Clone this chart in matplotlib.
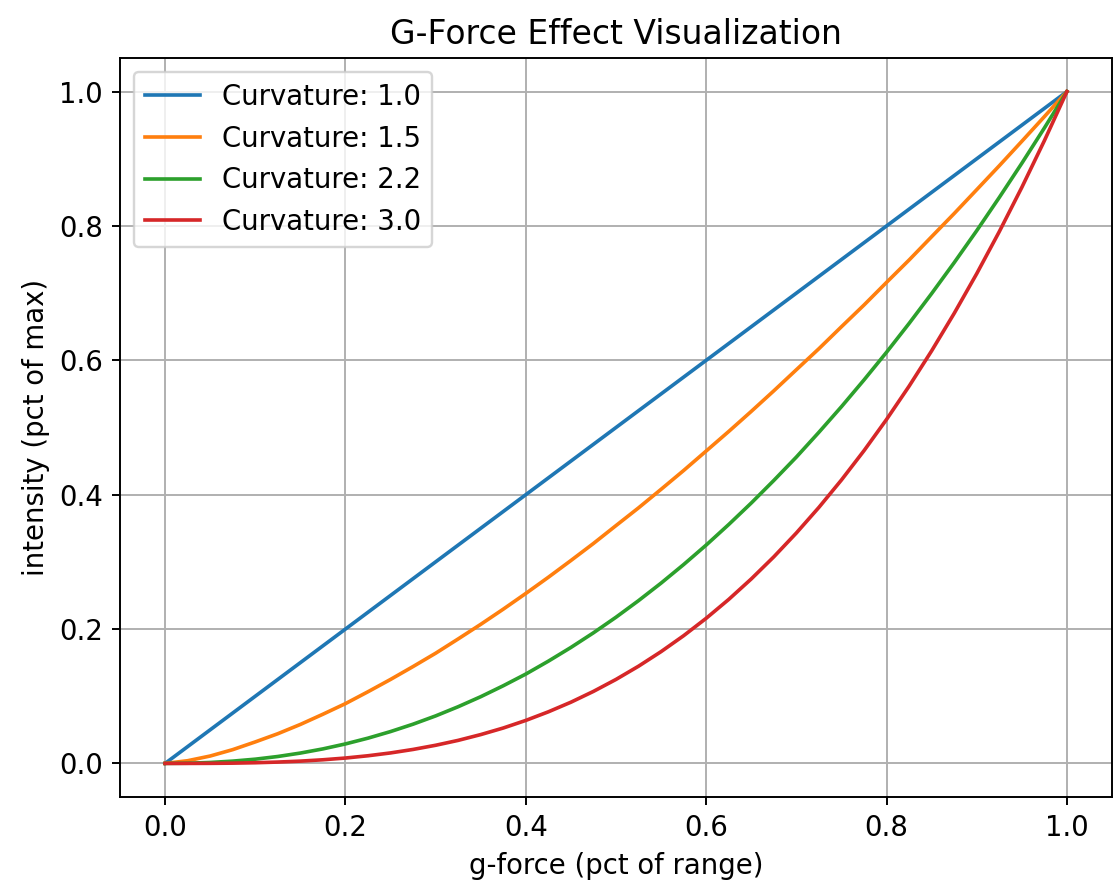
import matplotlib.pyplot as plt

plt.rcParams['figure.figsize'] = 1113 / 174, 883 / 174
plt.rcParams['figure.dpi'] = 174
plt.rcParams['font.size'] = 11.4

# values
g_force = [0.0, 0.025, 0.05, 0.075, 0.1, 0.125, 0.15, 0.175, 0.2, 0.225, 0.25,
           0.275, 0.3, 0.325, 0.35, 0.375, 0.4, 0.425, 0.45, 0.475, 0.5,
           0.525, 0.55, 0.575, 0.6, 0.625, 0.65, 0.675, 0.7, 0.725, 0.75,
           0.775, 0.8, 0.825, 0.85, 0.875, 0.9, 0.925, 0.95, 0.975, 1.0]
curvatures = [1.0, 1.5, 2.2, 3.0]
intensity_10 = [0.0, 0.025, 0.05, 0.075, 0.1, 0.125, 0.15, 0.175, 0.2, 0.225, 0.25,
                0.275, 0.3, 0.325, 0.35, 0.375, 0.4, 0.425, 0.45, 0.475, 0.5,
                0.525, 0.55, 0.575, 0.6, 0.625, 0.65, 0.675, 0.7, 0.725, 0.75,
                0.775, 0.8, 0.825, 0.85, 0.875, 0.9, 0.925, 0.95, 0.975, 1.0]
intensity_15 = [0.0, 0.004, 0.011, 0.0205, 0.032, 0.0442, 0.058, 0.0732, 0.089, 0.1067, 0.125,
                0.1442, 0.164, 0.1853, 0.207, 0.2296, 0.253, 0.2771, 0.302, 0.3274, 0.354,
                0.3804, 0.408, 0.436, 0.465, 0.4941, 0.524, 0.5546, 0.586, 0.6173, 0.65,
                0.6823, 0.716, 0.7493, 0.784, 0.8185, 0.854, 0.8896, 0.926, 0.9627, 1.0]
intensity_22 = [0.0, 0.0003, 0.0014, 0.0034, 0.0063, 0.0103, 0.0154, 0.0216, 0.029, 0.0376, 0.0474,
                0.0584, 0.0707, 0.0844, 0.0993, 0.1156, 0.133, 0.1522, 0.1726, 0.1944, 0.2176,
                0.2423, 0.2684, 0.296, 0.325, 0.3556, 0.3876, 0.4212, 0.456, 0.4929, 0.531,
                0.5708, 0.612, 0.6549, 0.6994, 0.7454, 0.793, 0.8424, 0.8933, 0.9458, 1.0]
intensity_30 = [0.0, 0.0, 0.0001, 0.0004, 0.001, 0.002, 0.0034, 0.0054, 0.008, 0.0114, 0.0156,
                0.0208, 0.027, 0.0343, 0.0429, 0.0527, 0.064, 0.0768, 0.0911, 0.1072, 0.125,
                0.1447, 0.1664, 0.1901, 0.216, 0.2441, 0.2746, 0.3075, 0.343, 0.3811, 0.4219,
                0.4655, 0.512, 0.5615, 0.6141, 0.6699, 0.729, 0.7915, 0.8574, 0.9269, 1.0]

fig = plt.figure()
ax = fig.add_axes([120 / 1113, 1 - 797 / 883, (1112 - 120) / 1113, (797 - 58) / 883])

for c, ys in zip(curvatures, [intensity_10, intensity_15, intensity_22, intensity_30]):
    ax.plot(g_force, ys, label='Curvature: ' + str(c))

ax.set_title('G-Force Effect Visualization')
ax.set_xlabel('g-force (pct of range)')
ax.set_ylabel('intensity (pct of max)')
ax.grid(True)
ax.legend(loc='upper left')

plt.savefig('out.png', dpi=174)
